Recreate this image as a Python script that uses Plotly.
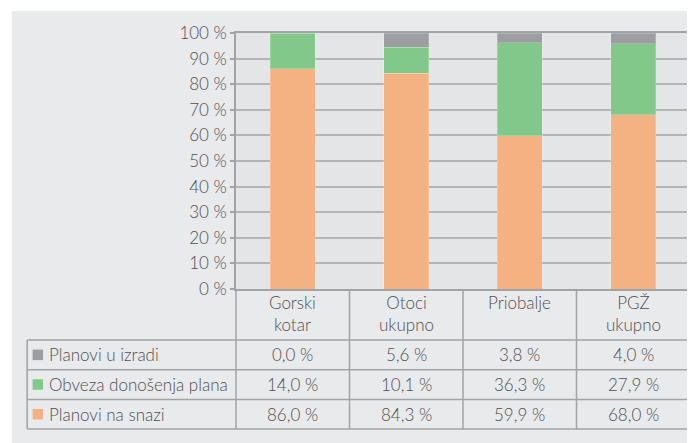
import plotly.graph_objects as go

# data
categories = ["Gorski kotar", "Otoci ukupno", "Priobalje", "PGŽ ukupno"]
header_labels = ["Gorski<br>kotar", "Otoci<br>ukupno", "Priobalje", "PGŽ<br>ukupno"]
series_names = ["Planovi u izradi", "Obveza donošenja plana", "Planovi na snazi"]
u_izradi = [0.0, 5.6, 3.8, 4.0]
obveza = [14.0, 10.1, 36.3, 27.9]
na_snazi = [86.0, 84.3, 59.9, 68.0]
y_ticks = list(range(0, 101, 10))
y_tick_labels = [f"{v} %" for v in y_ticks]

colors = {"Planovi u izradi": "#9d9ea2",
          "Obveza donošenja plana": "#82c88a",
          "Planovi na snazi": "#f4b282"}

# page has an 8px body margin, so the figure sits at (8, 8)
OFF = 8
W, H = 695 - OFF, 443 - OFF
L, R, T, B = 235.5 - OFF, 3, 33 - OFF, 443 - 289
PW = W - L - R
PH = H - T - B
FONT = "Lato, 'Source Sans Pro', 'Open Sans', sans-serif"
TXT = "#4f4f4f"
LINE = "#a2a3a6"
FS = 17


def px_x(p):
    # p in page pixels
    return (p - OFF - L) / PW


def px_y(p):
    return (H - B - (p - OFF)) / PH


fig = go.Figure()
# stack order bottom -> top
for name, vals in [("Planovi na snazi", na_snazi),
                   ("Obveza donošenja plana", obveza),
                   ("Planovi u izradi", u_izradi)]:
    fig.add_trace(go.Bar(x=list(range(len(categories))), y=vals, name=name,
                         marker=dict(color=colors[name],
                                     line=dict(color="rgba(255,255,255,0.2)", width=1)),
                         width=0.4, showlegend=False, hoverinfo="skip"))

shapes = []
# grey panel
shapes.append(dict(type="rect", xref="paper", yref="paper", layer="below",
                   x0=px_x(10), x1=px_x(697), y0=px_y(445), y1=px_y(11),
                   fillcolor="#e9eaec", line=dict(width=0)))
shapes.append(dict(type="rect", xref="paper", yref="paper", layer="below",
                   x0=0, x1=1, y0=0, y1=1, fillcolor="#e4e5e7", line=dict(width=0)))

# table geometry (page pixels)
row_lines = [340, 369.7, 399.4, 429]
tab_left = 25.5
ncol = len(categories)
plot_left = 235.5
plot_w = 692 - plot_left
col_edges = [plot_left + plot_w * i / ncol for i in range(ncol + 1)]

for yy in row_lines:
    shapes.append(dict(type="line", xref="paper", yref="paper",
                       x0=px_x(tab_left), x1=1, y0=px_y(yy), y1=px_y(yy),
                       line=dict(color=LINE, width=1.5)))
for xe in col_edges:
    shapes.append(dict(type="line", xref="paper", yref="paper",
                       x0=px_x(xe), x1=px_x(xe), y0=px_y(row_lines[-1]), y1=0,
                       line=dict(color=LINE, width=1.5)))
shapes.append(dict(type="line", xref="paper", yref="paper",
                   x0=px_x(tab_left), x1=px_x(tab_left),
                   y0=px_y(row_lines[-1]), y1=px_y(row_lines[0]),
                   line=dict(color=LINE, width=1.5)))

annotations = []
for i, lab in enumerate(header_labels):
    cx = (col_edges[i] + col_edges[i + 1]) / 2
    annotations.append(dict(x=px_x(cx), y=px_y(290), xref="paper", yref="paper",
                            text=lab, showarrow=False, xanchor="center", yanchor="top",
                            font=dict(size=FS, color=TXT, family=FONT, weight=300)))

rows = [("Planovi u izradi", u_izradi), ("Obveza donošenja plana", obveza),
        ("Planovi na snazi", na_snazi)]
for r, (name, vals) in enumerate(rows):
    cy = (row_lines[r] + row_lines[r + 1]) / 2
    sq = 10.5
    shapes.append(dict(type="rect", xref="paper", yref="paper",
                       x0=px_x(31), x1=px_x(31 + sq),
                       y0=px_y(cy + sq / 2), y1=px_y(cy - sq / 2),
                       fillcolor=colors[name], line=dict(width=0)))
    annotations.append(dict(x=px_x(45), y=px_y(cy), xref="paper", yref="paper",
                            text=name, showarrow=False, xanchor="left", yanchor="middle",
                            font=dict(size=FS, color=TXT, family=FONT, weight=300)))
    for i, v in enumerate(vals):
        cx = (col_edges[i] + col_edges[i + 1]) / 2
        annotations.append(dict(x=px_x(cx), y=px_y(cy), xref="paper", yref="paper",
                                text=f"{v:.1f}".replace(".", ",") + " %",
                                showarrow=False, xanchor="center", yanchor="middle",
                                font=dict(size=FS, color=TXT, family=FONT, weight=300)))

fig.update_layout(
    width=W, height=H, barmode="stack",
    margin=dict(l=L, r=R, t=T, b=B, pad=0),
    paper_bgcolor="white", plot_bgcolor="rgba(0,0,0,0)",
    shapes=shapes, annotations=annotations,
    font=dict(family=FONT, size=FS, color=TXT),
    xaxis=dict(range=[-0.5, ncol - 0.5], showticklabels=False, showgrid=False,
               zeroline=False, showline=True, mirror=True, linecolor=LINE, linewidth=1.5,
               fixedrange=True),
    yaxis=dict(range=[0, 100], tickmode="array", tickvals=y_ticks, ticktext=y_tick_labels,
               showgrid=True, gridcolor="#b4b5b7", gridwidth=2, zeroline=False,
               showline=True, mirror=True, linecolor=LINE, linewidth=1.5,
               ticks="outside", ticklen=4, tickcolor=LINE, tickwidth=1.5,
               tickfont=dict(size=FS, color=TXT, family=FONT, weight=300), fixedrange=True),
)

fig.write_html("out.html")
